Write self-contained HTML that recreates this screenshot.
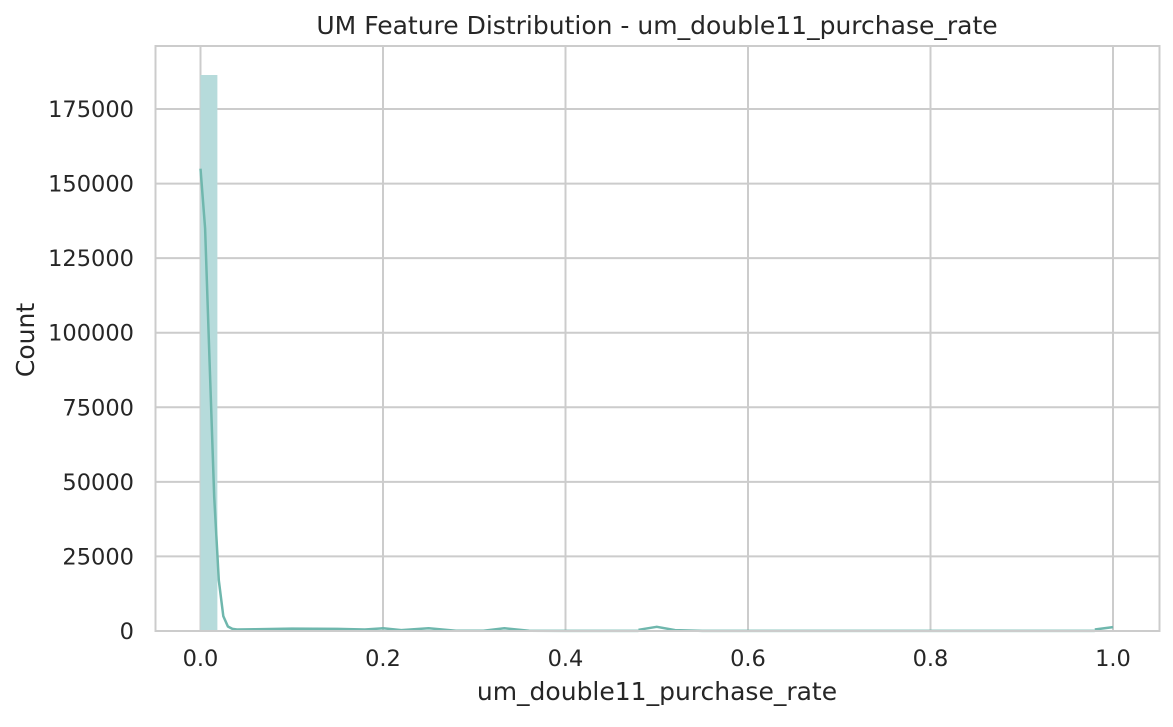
<!DOCTYPE html>
<html><head><meta charset="utf-8"><style>
body{margin:0;background:#fff;}
svg text{font-family:"DejaVu Sans","Liberation Sans",sans-serif;fill:#262626;}
</style></head><body>
<svg id="chart" width="1173" height="722" xmlns="http://www.w3.org/2000/svg">
<rect x="0" y="0" width="1173" height="722" fill="#fff"/>
<g id="grid"></g>
<g id="bars"></g>
<g id="kde"></g>
<rect x="155.5" y="46" width="1004" height="585" fill="none" stroke="#cccccc" stroke-width="2"/>
<g id="ticks"></g>
<text x="657" y="34" font-size="25" text-anchor="middle">UM Feature Distribution - um_double11_purchase_rate</text>
<text x="657" y="700" font-size="25" text-anchor="middle">um_double11_purchase_rate</text>
<text x="0" y="0" font-size="25" text-anchor="middle" transform="translate(34,340) rotate(-90)">Count</text>
</svg>
<script>
const xTicks=[0,0.2,0.4,0.6,0.8,1.0];
const xTickLabels=["0.0","0.2","0.4","0.6","0.8","1.0"];
const yTicks=[0,25000,50000,75000,100000,125000,150000,175000];
const binStarts=[0];
const binWidth=0.0185;
const binCounts=[186400];
const kdeX=[0,0.005,0.01,0.015,0.02,0.025,0.03,0.035,0.04,0.06,0.1,0.15,0.18,0.2,0.22,0.25,0.28,0.31,0.333,0.36,0.4,0.45,0.48,null,0.48,0.5,0.52,0.55,0.6,0.7,0.8,0.9,0.98,null,0.98,1.0];
const kdeY=[155000,135000,90000,45000,17000,5000,1500,700,500,600,800,700,500,900,300,900,100,100,900,100,50,50,50,null,400,1400,300,50,20,20,20,20,20,null,500,1300];
const ns="http://www.w3.org/2000/svg";
const X=v=>200.5+v*912.5, Y=v=>631-v*522/175000;
function mk(t,a,p){const e=document.createElementNS(ns,t);for(const k in a)e.setAttribute(k,a[k]);p.appendChild(e);return e;}
const g=document.getElementById('grid'),tk=document.getElementById('ticks');
xTicks.forEach((v,i)=>{
 const l=mk('line',{x1:X(v),x2:X(v),y1:46,y2:631,stroke:'#cccccc','stroke-width':2},g);
 
 
 const t=mk('text',{x:X(v),y:666,'font-size':22.5,'text-anchor':'middle'},tk);t.textContent=xTickLabels[i];
 
 
});
yTicks.forEach(v=>{
 const l=mk('line',{x1:155,x2:1160,y1:Y(v),y2:Y(v),stroke:'#cccccc','stroke-width':2},g);
 
 
 const t=mk('text',{x:134,y:Y(v)+8,'font-size':22.5,'text-anchor':'end'},tk);t.textContent=String(v);
 
 
});
const b=document.getElementById('bars');
binCounts.forEach((c,i)=>{
 const r=mk('rect',{x:X(binStarts[i]),y:Y(c),width:X(binWidth)-X(0),height:Y(0)-Y(c),fill:'#b6dbdb'},b);
 
 
});
let d='',start=true;
kdeX.forEach((x,i)=>{if(x===null){start=true;return;}d+=(start?'M':'L')+X(x).toFixed(1)+','+Y(kdeY[i]).toFixed(1);start=false;});
const p=mk('path',{d:d,fill:'none',stroke:'#6fb7ad','stroke-width':2.5,'stroke-linejoin':'round'},document.getElementById('kde'));


</script>
</body></html>
